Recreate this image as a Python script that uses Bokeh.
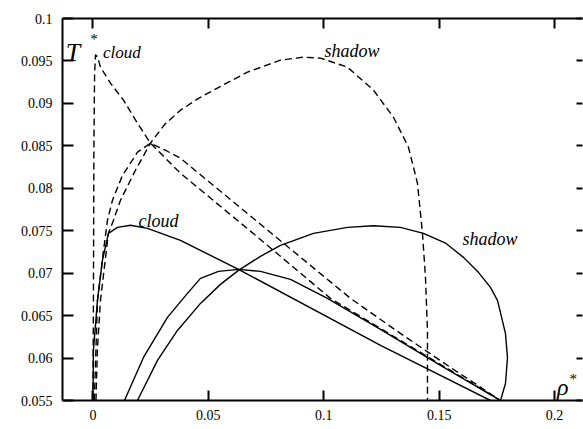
from bokeh.plotting import figure
from bokeh.models import Range1d, FixedTicker, LinearAxis, Label
from bokeh.embed import file_html
from bokeh.resources import INLINE

# Axis ticks
x_ticks = [0.0, 0.05, 0.1, 0.15, 0.2]
x_tick_labels = ["0", "0.05", "0.1", "0.15", "0.2"]
y_ticks = [0.055, 0.06, 0.065, 0.07, 0.075, 0.08, 0.085, 0.09, 0.095, 0.1]
y_tick_labels = ["0.055", "0.06", "0.065", "0.07", "0.075", "0.08", "0.085", "0.09", "0.095", "0.1"]

# Dashed set: cloud curve, shadow curve and the coexistence arc
cloud_a_rho = [0.0, 0.0002, 0.0004, 0.0007, 0.0011, 0.0020, 0.00325, 0.00758, 0.01322,
               0.01928, 0.02491, 0.0379, 0.0704, 0.1029, 0.1332, 0.1549, 0.1766]
cloud_a_T = [0.055, 0.0668, 0.0845, 0.0935, 0.0957, 0.0955, 0.09427, 0.09238, 0.09038,
             0.08767, 0.08531, 0.08177, 0.07446, 0.06703, 0.06208, 0.05854, 0.055]

shadow_a_rho = [0.0013, 0.0019, 0.00325, 0.0067, 0.00888, 0.01192, 0.0184, 0.02491,
                0.0310, 0.0379, 0.0452, 0.05221, 0.06694, 0.08124, 0.0912, 0.09857,
                0.11027, 0.12153, 0.1302, 0.1367, 0.1406, 0.14277, 0.14407, 0.14493,
                0.14493]
shadow_a_T = [0.055, 0.0609, 0.06679, 0.0747, 0.07623, 0.07859, 0.08212, 0.08531,
              0.0875, 0.0892, 0.0905, 0.09156, 0.09368, 0.09509, 0.09545, 0.09533,
              0.09427, 0.09156, 0.08837, 0.08484, 0.08059, 0.07469, 0.0695, 0.06325,
              0.055]

arc_a_rho = [0.0006, 0.00195, 0.0045, 0.00628, 0.00845, 0.0128, 0.0193, 0.0249, 0.0314,
             0.0379, 0.07474, 0.1116, 0.1332, 0.1549, 0.1766]
arc_a_T = [0.055, 0.06679, 0.0725, 0.07623, 0.07859, 0.08153, 0.08425, 0.0853, 0.08448,
           0.08354, 0.07528, 0.06703, 0.0629, 0.0589, 0.055]

# Solid set: cloud curve, shadow curve and the coexistence arc
cloud_b_rho = [0.0, 0.0002, 0.00195, 0.0041, 0.00672, 0.01062, 0.01625, 0.02361, 0.03791,
               0.0509, 0.06304, 0.1246, 0.1722]
cloud_b_T = [0.055, 0.0609, 0.06679, 0.07151, 0.07469, 0.0754, 0.07564, 0.07528, 0.07387,
             0.0721, 0.07045, 0.06149, 0.055]

shadow_b_rho = [0.01928, 0.02795, 0.03661, 0.04658, 0.05524, 0.06304, 0.07257, 0.08124,
                0.09554, 0.11027, 0.12153, 0.13323, 0.1432, 0.15300, 0.16053, 0.16700,
                0.17222, 0.17526, 0.17873, 0.1796, 0.17873, 0.17656]
shadow_b_T = [0.055, 0.05972, 0.06325, 0.06644, 0.06868, 0.07033, 0.07198, 0.07328,
              0.07469, 0.0754, 0.07558, 0.0754, 0.07469, 0.0735, 0.07186, 0.0701,
              0.06833, 0.06679, 0.0629, 0.06007, 0.057, 0.055]

arc_b_rho = [0.01365, 0.02188, 0.03228, 0.04094, 0.04658, 0.05438, 0.06304, 0.07257,
             0.08557, 0.1016, 0.12457, 0.15057, 0.17656]
arc_b_T = [0.055, 0.06007, 0.06479, 0.06762, 0.06939, 0.07021, 0.07045, 0.07021,
           0.06927, 0.06703, 0.06337, 0.05913, 0.055]

SERIF = "Liberation Serif"

p = figure(width=583, height=429, output_backend="svg", toolbar_location=None,
           x_range=Range1d(-0.0132, 0.2121), y_range=Range1d(0.055, 0.1),
           min_border_left=62, min_border_right=1, min_border_top=18,
           min_border_bottom=29)
p.xgrid.visible = False
p.ygrid.visible = False
p.outline_line_color = None
p.background_fill_color = "white"
p.border_fill_color = "white"


def style_axis(ax, ticks, labels, tick_in=10, show_line=True, label_size="14px"):
    ax.ticker = FixedTicker(ticks=ticks)
    ax.minor_tick_line_color = None
    ax.major_tick_in = tick_in
    ax.major_tick_out = 0
    ax.major_tick_line_width = 2
    ax.major_tick_line_color = "black"
    ax.axis_line_width = 2
    ax.axis_line_color = "black" if show_line else None
    ax.major_label_overrides = {t: l for t, l in zip(ticks, labels)}
    ax.major_label_text_font = SERIF
    ax.major_label_text_font_size = label_size
    ax.major_label_text_color = "black"


style_axis(p.xaxis[0], x_ticks, x_tick_labels, tick_in=10)
p.xaxis[0].major_label_standoff = 9
style_axis(p.yaxis[0], y_ticks, y_tick_labels, tick_in=11)
p.yaxis[0].major_label_standoff = 10

# Frame sides carry unlabelled inward ticks
top_axis = LinearAxis(major_label_standoff=0)
style_axis(top_axis, x_ticks, [""] * len(x_ticks), tick_in=10, label_size="1px")
p.add_layout(top_axis, "above")

right_axis = LinearAxis(major_label_standoff=0)
style_axis(right_axis, y_ticks, [""] * len(y_ticks), tick_in=6, show_line=False,
           label_size="1px")
p.add_layout(right_axis, "right")

dash = "7 4"
for xs, ys in [(cloud_a_rho, cloud_a_T), (shadow_a_rho, shadow_a_T), (arc_a_rho, arc_a_T)]:
    p.line(xs, ys, line_color="black", line_width=1.4, line_dash=dash, line_join="round")
for xs, ys in [(cloud_b_rho, cloud_b_T), (shadow_b_rho, shadow_b_T), (arc_b_rho, arc_b_T)]:
    p.line(xs, ys, line_color="black", line_width=1.4, line_join="round")


def add_text(x, y, text, size, italic=True, baseline="alphabetic"):
    p.add_layout(Label(x=x, y=y, text=text, text_font=SERIF, text_font_size=size,
                       text_font_style="italic" if italic else "normal",
                       text_color="black", text_baseline=baseline, text_align="left"))


# Axis names inside the frame
add_text(-0.0118, 0.09604, "T", "26px")
add_text(-0.0012, 0.0985, "*", "15px", italic=False, baseline="top")
add_text(0.0043, 0.09604, "cloud", "17px")
add_text(0.2011, 0.0566, "\u03c1", "24px")
add_text(0.2065, 0.0585, "*", "15px", italic=False, baseline="top")

# Curve annotations
add_text(0.1003, 0.09616, "shadow", "18px")
add_text(0.0197, 0.07611, "cloud", "18px")
add_text(0.1601, 0.07399, "shadow", "18px")

open("out.html", "w").write(file_html(p, INLINE))
